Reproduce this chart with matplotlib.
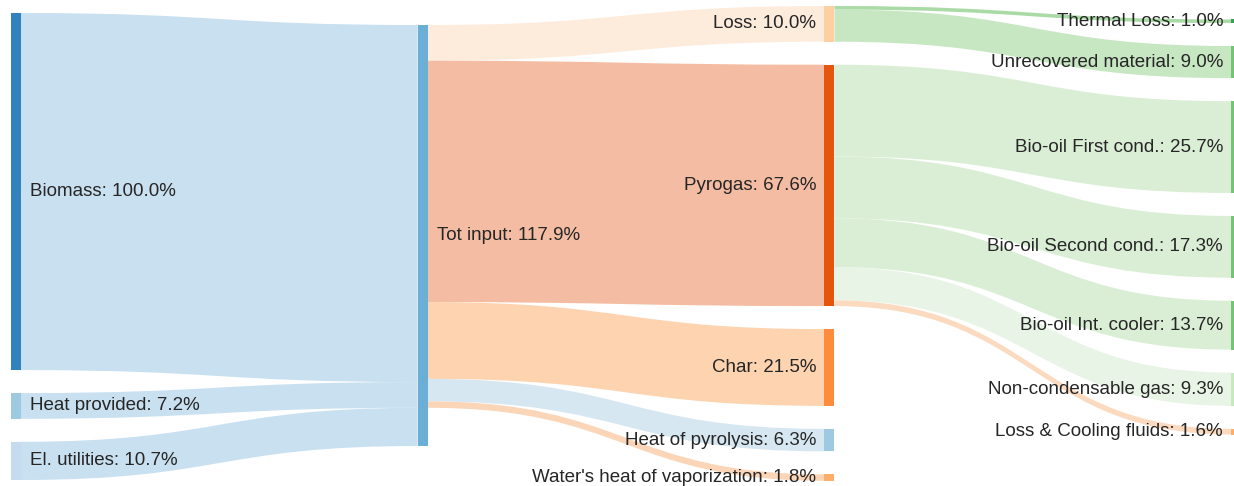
import matplotlib
matplotlib.use("Agg")
import matplotlib.pyplot as plt
from matplotlib.path import Path
from matplotlib.patches import PathPatch, Rectangle

# nodes of the sankey
labels = ['Biomass', 'Heat provided', 'El. utilities', 'Tot input', 'Loss', 'Pyrogas', 'Char',
          'Heat of pyrolysis', "Water's heat of vaporization", 'Thermal Loss', 'Unrecovered material',
          'Bio-oil First cond.', 'Bio-oil Second cond.', 'Bio-oil Int. cooler', 'Non-condensable gas',
          'Loss & Cooling fluids']
node_colors = ['#3182bd', '#9ecae1', '#c6dbef', '#6baed6', '#fdd0a2', '#e6550d', '#fd8d3c',
               '#9ecae1', '#fdae6b', '#31a354', '#74c476', '#74c476', '#74c476', '#74c476',
               '#c7e9c0', '#fdae6b']

# links
source = [0, 1, 2, 3, 3, 3, 3, 3, 4, 4, 5, 5, 5, 5, 5]
target = [3, 3, 3, 4, 5, 6, 7, 8, 9, 10, 11, 12, 13, 14, 15]
value = [100.0, 7.2, 10.7, 10.0, 67.6, 21.5, 6.3, 1.8, 1.0, 9.0, 25.7, 17.3, 13.7, 9.3, 1.6]
link_colors = ['#c6dff0', '#c6dff0', '#c6dff0', '#fdeada', '#f4ba9e', '#fdd1ac', '#d4e6f2',
               '#fbd3b3', '#a6d9a2', '#c4e5bf', '#d7eed3', '#d7eed3', '#d7eed3', '#e7f4e4',
               '#fbd8bc']

# layout
col_top = [3.64, 7.0, 1.68, 5.45]
gap = 6.44
node_w = 0.0246
H = 136.1

n = len(labels)
v_in = [0.0] * n
v_out = [0.0] * n
for s, t, v in zip(source, target, value):
    v_out[s] += v
    v_in[t] += v
node_val = [max(a, b) for a, b in zip(v_in, v_out)]

col = [0] * n
for _ in range(n):
    for s, t in zip(source, target):
        col[t] = max(col[t], col[s] + 1)

y0 = [0.0] * n
for c in range(4):
    y = col_top[c]
    for i in range(n):
        if col[i] == c:
            y0[i] = y
            y += node_val[i] + gap

fig = plt.figure(figsize=(12.34, 4.86), dpi=100)
ax = fig.add_axes([0, 0, 1, 1])
ax.set_xlim(-0.027, 3.007)
ax.set_ylim(H, 0)
ax.axis('off')

out_pos = list(y0)
in_pos = list(y0)
order = sorted(range(len(value)), key=lambda k: (source[k], y0[target[k]]))
tops = {}
for k in order:
    tops[k] = [out_pos[source[k]], 0]
    out_pos[source[k]] += value[k]
for k in sorted(range(len(value)), key=lambda k: (target[k], y0[source[k]])):
    tops[k][1] = in_pos[target[k]]
    in_pos[target[k]] += value[k]

for k in range(len(value)):
    xa = col[source[k]] + node_w
    xb = col[target[k]]
    xm = (xa + xb) / 2
    ya, yb = tops[k]
    v = value[k]
    verts = [(xa, ya), (xm, ya), (xm, yb), (xb, yb), (xb, yb + v),
             (xm, yb + v), (xm, ya + v), (xa, ya + v), (xa, ya)]
    codes = [Path.MOVETO, Path.CURVE4, Path.CURVE4, Path.CURVE4, Path.LINETO,
             Path.CURVE4, Path.CURVE4, Path.CURVE4, Path.CLOSEPOLY]
    ax.add_patch(PathPatch(Path(verts, codes), facecolor=link_colors[k], edgecolor='none', alpha=0.95))

for i in range(n):
    ax.add_patch(Rectangle((col[i], y0[i]), node_w, node_val[i], facecolor=node_colors[i], edgecolor='none'))
    txt = '%s: %.1f%%' % (labels[i], node_val[i])
    ym = y0[i] + node_val[i] / 2
    if col[i] < 2:
        ax.text(col[i] + node_w + 0.022, ym, txt, ha='left', va='center',
                fontsize=13.5, family='Liberation Sans', color='#262626')
    else:
        ax.text(col[i] - 0.02, ym, txt, ha='right', va='center',
                fontsize=13.5, family='Liberation Sans', color='#262626')

fig.savefig('out.png', dpi=100)
